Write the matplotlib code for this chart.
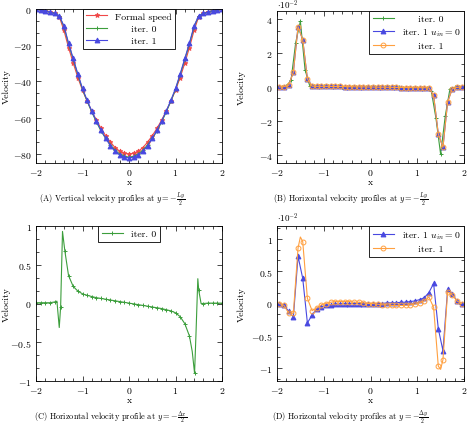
import matplotlib
matplotlib.use("Agg")
import matplotlib.pyplot as plt
from matplotlib.ticker import AutoMinorLocator, FuncFormatter

plt.rcParams["font.family"] = "serif"
plt.rcParams["font.serif"] = ["cmr10", "DejaVu Serif"]
plt.rcParams["mathtext.fontset"] = "cm"
plt.rcParams["axes.formatter.use_mathtext"] = True
plt.rcParams["axes.linewidth"] = 0.6

# -------------------------------------------------------------------------------------
# Data
# -------------------------------------------------------------------------------------
x_nodes = [-2.0, -1.9, -1.8, -1.7, -1.6, -1.5, -1.4, -1.3, -1.2, -1.1, -1.0,
           -0.9, -0.8, -0.7, -0.6, -0.5, -0.4, -0.3, -0.2, -0.1, 0.0,
           0.1, 0.2, 0.3, 0.4, 0.5, 0.6, 0.7, 0.8, 0.9, 1.0,
           1.1, 1.2, 1.3, 1.4, 1.5, 1.6, 1.7, 1.8, 1.9, 2.0]
x_cells = [-1.95, -1.85, -1.75, -1.65, -1.55, -1.45, -1.35, -1.25, -1.15, -1.05,
           -0.95, -0.85, -0.75, -0.65, -0.55, -0.45, -0.35, -0.25, -0.15, -0.05,
           0.05, 0.15, 0.25, 0.35, 0.45, 0.55, 0.65, 0.75, 0.85, 0.95,
           1.05, 1.15, 1.25, 1.35, 1.45, 1.55, 1.65, 1.75, 1.85, 1.95]

# (A) vertical velocity at y = -Ly/2
a_formal = [0, -0.6, -1.2, -1.8, -2.5, -4.5, -12, -21.5, -30, -38, -45,
            -51, -56.5, -61.5, -66, -70, -73.5, -76.5, -78.5, -79.7, -80.0,
            -79.7, -78.5, -76.5, -73.5, -70, -66, -61.5, -56.5, -51, -45,
            -38, -30, -21.5, -12, -4.5, -2.5, -1.8, -1.2, -0.6, 0]
a_iter0 = [0, -0.6, -1.2, -1.9, -2.7, -4.0, -10, -19.5, -28, -36.5, -44.5,
           -51, -57, -62.5, -67.5, -71.5, -75, -78, -80, -81.3, -81.8,
           -81.3, -80, -78, -75, -71.5, -67.5, -62.5, -57, -51, -44.5,
           -36.5, -28, -19.5, -10, -4.0, -2.7, -1.9, -1.2, -0.6, 0]
a_iter1 = [0, -0.6, -1.2, -1.9, -2.7, -4.0, -9.5, -19, -27.5, -36, -44,
           -50.5, -56.5, -62, -67, -71.5, -75.5, -78.5, -80.5, -81.8, -82.2,
           -81.8, -80.5, -78.5, -75.5, -71.5, -67, -62, -56.5, -50.5, -44,
           -36, -27.5, -19, -9.5, -4.0, -2.7, -1.9, -1.2, -0.6, 0]

# (B) horizontal velocity at y = -Ly/2, units of 1e-2
b_iter0 = [0, 0.01, 0.05, 0.4, 2.63, 3.9, 1.02, 0.07, 0.04, 0.04, 0.04,
           0.035, 0.03, 0.03, 0.025, 0.02, 0.02, 0.015, 0.01, 0.005, 0.0,
           -0.005, -0.01, -0.015, -0.02, -0.02, -0.025, -0.03, -0.03, -0.035, -0.04,
           -0.04, -0.04, -0.23, -1.85, -3.98, -1.7, -0.1, -0.02, 0, 0]
b_iter1_uin0 = [0, 0.02, 0.1, 0.88, 3.57, 2.8, 0.49, 0.05, 0.04, 0.04,
                0.04, 0.035, 0.03, 0.03, 0.025, 0.02, 0.015, 0.01, 0.01, 0.0,
                0.0, -0.01, -0.01, -0.015, -0.02, -0.025, -0.03, -0.03, -0.035, -0.04,
                -0.04, -0.04, -0.05, -0.5, -2.78, -3.57, -0.88, -0.1, -0.02, 0]
b_iter1 = [0, 0.02, 0.1, 0.88, 3.57, 2.8, 0.49, 0.05, 0.04, 0.04,
           0.04, 0.035, 0.03, 0.03, 0.025, 0.02, 0.015, 0.01, 0.01, 0.0,
           0.0, -0.01, -0.01, -0.015, -0.02, -0.025, -0.03, -0.03, -0.035, -0.04,
           -0.04, -0.04, -0.05, -0.5, -2.78, -3.57, -0.88, -0.1, -0.02, 0]

# (C) horizontal velocity at y = -dx/2
c_x = [-2.0, -1.9, -1.8, -1.7, -1.6, -1.55, -1.5, -1.47, -1.43, -1.38, -1.3,
       -1.2, -1.1, -1.0, -0.9, -0.8, -0.7, -0.6, -0.5, -0.4, -0.3, -0.2, -0.1, 0.0,
       0.1, 0.2, 0.3, 0.4, 0.5, 0.6, 0.7, 0.8, 0.9, 1.0, 1.1, 1.2, 1.3,
       1.36, 1.41, 1.44, 1.48, 1.5, 1.55, 1.6, 1.7, 1.8, 1.9, 2.0]
c_iter0 = [0.01, 0.01, 0.01, 0.01, 0.02, 0.03, -0.31, -0.04, 0.93, 0.68, 0.36,
           0.22, 0.16, 0.125, 0.105, 0.09, 0.075, 0.065, 0.055, 0.045, 0.035, 0.025, 0.015, 0.005,
           -0.005, -0.015, -0.025, -0.035, -0.045, -0.055, -0.065, -0.08, -0.095, -0.12, -0.17, -0.26, -0.42,
           -0.62, -0.9, -0.4, 0.32, 0.17, 0.0, 0.0, 0.005, 0.005, 0.005, 0.005]
c_unmarked = [-1.55, -1.5, -1.43, 1.36, 1.44, 1.48, 1.55]

# (D) horizontal velocity at y = -dy/2, units of 1e-2
d_iter1_uin0 = [0.0, -0.03, -0.12, -0.21, 0.73, 0.39, -0.30, -0.18, -0.08, -0.05,
                -0.03, -0.02, -0.01, -0.01, 0.0, 0.0, 0.0, 0.0, 0.0, 0.0,
                0.0, 0.0, 0.0, 0.01, 0.01, 0.01, 0.02, 0.02, 0.03, 0.04,
                0.06, 0.09, 0.17, 0.31, -0.39, -0.73, 0.22, 0.15, 0.04, 0.0]
d_x_iter1 = [-1.95, -1.85, -1.75, -1.65, -1.55, -1.5, -1.45, -1.35, -1.25, -1.15, -1.05,
             -0.95, -0.85, -0.75, -0.65, -0.55, -0.45, -0.35, -0.25, -0.15, -0.05,
             0.05, 0.15, 0.25, 0.35, 0.45, 0.55, 0.65, 0.75, 0.85, 0.95,
             1.05, 1.15, 1.25, 1.35, 1.45, 1.5, 1.55, 1.65, 1.75, 1.85, 1.95]
d_iter1 = [0.0, -0.03, -0.15, -0.15, 0.86, 1.03, 0.96, 0.08, -0.11, -0.07, -0.02,
           0.0, 0.02, 0.03, 0.03, 0.03, 0.03, 0.02, 0.02, 0.01, 0.0,
           0.0, -0.01, -0.02, -0.02, -0.03, -0.03, -0.03, -0.03, -0.02, -0.01,
           0.01, 0.04, 0.1, -0.06, -0.97, -1.02, -0.87, 0.18, 0.13, 0.04, 0.0]
d_unmarked = [-1.5, 1.5]

RED = "#f04848"
GREEN = "#3c9e3c"
BLUE = "#4848e0"
ORANGE = "#ffa040"

W, H = 467, 435


def add_axes_px(left, right, top, bottom):
    return fig.add_axes([left / W, 1 - bottom / H, (right - left) / W, (bottom - top) / H])


def style_axes(ax, yticks, ylim, ylabel_x=-0.165):
    ax.set_xlim(-2, 2)
    ax.set_ylim(*ylim)
    ax.set_xticks([-2, -1, 0, 1, 2])
    ax.set_yticks(yticks)
    ax.xaxis.set_minor_locator(AutoMinorLocator(5))
    ax.yaxis.set_minor_locator(AutoMinorLocator(3))
    fmt = FuncFormatter(lambda v, p: f"${v:g}$")
    ax.xaxis.set_major_formatter(fmt)
    ax.yaxis.set_major_formatter(fmt)
    ax.tick_params(which="both", direction="in", top=True, right=True,
                   width=0.5, labelsize=7, pad=3)
    ax.tick_params(which="major", length=3.5)
    ax.tick_params(which="minor", length=2)
    ax.set_xlabel("x", fontsize=7)
    ax.xaxis.set_label_coords(0.5, -0.095)
    ax.set_ylabel("Velocity", fontsize=7)
    ax.yaxis.set_label_coords(ylabel_x, 0.5)


def add_legend(ax, loc):
    leg = ax.legend(loc=loc, fontsize=7, borderaxespad=0, fancybox=False,
                    framealpha=1, edgecolor="black", numpoints=1,
                    handlelength=2.2, borderpad=0.35, labelspacing=0.35)
    leg.get_frame().set_linewidth(0.6)
    return leg


def marked(xs, skip):
    return [i for i, x in enumerate(xs) if x not in skip]


line_kw = dict(linewidth=0.8, markersize=3.5, markeredgewidth=0.7)

fig = plt.figure(figsize=(W / 100, H / 100), dpi=100)

# -------------------------------------------------------------------------------------
# (A) Vertical velocity
# -------------------------------------------------------------------------------------
ax = add_axes_px(36, 222, 9.5, 164)
ax.plot(x_nodes, a_formal, color=RED, marker="*", label="Formal speed", **line_kw)
ax.plot(x_nodes, a_iter0, color=GREEN, marker="+", label="     iter. 0", **line_kw)
ax.plot(x_nodes, a_iter1, color=BLUE, marker="^", label="     iter. 1", **line_kw)
style_axes(ax, [-80, -60, -40, -20, 0], (-85, 0), ylabel_x=-0.135)
add_legend(ax, "upper center")

# -------------------------------------------------------------------------------------
# (B) Horizontal velocity, y = -Ly/2
# -------------------------------------------------------------------------------------
ax = add_axes_px(277, 464, 12, 164)
ax.plot(x_nodes, b_iter0, color=GREEN, marker="+", label="     iter. 0", **line_kw)
ax.plot(x_cells, b_iter1_uin0, color=BLUE, marker="^", label=r"iter. 1 $u_{in}=0$", **line_kw)
ax.plot(x_cells, b_iter1, color=ORANGE, marker="o", markerfacecolor="none",
        label="     iter. 1", **line_kw)
style_axes(ax, [-4, -2, 0, 2, 4], (-4.5, 4.5))
ax.text(0, 1.0, r"$\cdot 10^{-2}$", transform=ax.transAxes, fontsize=6.5,
        ha="left", va="bottom")
add_legend(ax, "upper right")

# -------------------------------------------------------------------------------------
# (C) Horizontal velocity, y = -dx/2
# -------------------------------------------------------------------------------------
ax = add_axes_px(36, 222, 227, 382)
ax.plot(c_x, c_iter0, color=GREEN, marker="+", markevery=marked(c_x, c_unmarked),
        label="iter. 0", **line_kw)
style_axes(ax, [-1, -0.5, 0, 0.5, 1], (-1, 1), ylabel_x=-0.135)
add_legend(ax, "upper center")

# -------------------------------------------------------------------------------------
# (D) Horizontal velocity, y = -dy/2
# -------------------------------------------------------------------------------------
ax = add_axes_px(277, 464, 227, 382)
ax.plot(x_cells, d_iter1_uin0, color=BLUE, marker="^", label=r"iter. 1 $u_{in}=0$", **line_kw)
ax.plot(d_x_iter1, d_iter1, color=ORANGE, marker="o", markerfacecolor="none",
        markevery=marked(d_x_iter1, d_unmarked), label="     iter. 1", **line_kw)
style_axes(ax, [-1, -0.5, 0, 0.5, 1], (-1.2, 1.2))
ax.text(0, 1.01, r"$\cdot 10^{-2}$", transform=ax.transAxes, fontsize=6.5,
        ha="left", va="bottom")
add_legend(ax, "upper right")

# -------------------------------------------------------------------------------------
# Captions
# -------------------------------------------------------------------------------------
cap_kw = dict(fontsize=6, ha="center", va="center")
fig.text(112 / W, 1 - 200 / H, r"(A) Vertical velocity profiles at $y=-\frac{Ly}{2}$", **cap_kw)
fig.text(351 / W, 1 - 200 / H, r"(B) Horizontal velocity profiles at $y=-\frac{Ly}{2}$", **cap_kw)
fig.text(111 / W, 1 - 418 / H, r"(C) Horizontal velocity profile at $y=-\frac{\Delta x}{2}$", **cap_kw)
fig.text(350 / W, 1 - 418 / H, r"(D) Horizontal velocity profiles at $y=-\frac{\Delta y}{2}$", **cap_kw)

fig.savefig("out.png", dpi=100)
